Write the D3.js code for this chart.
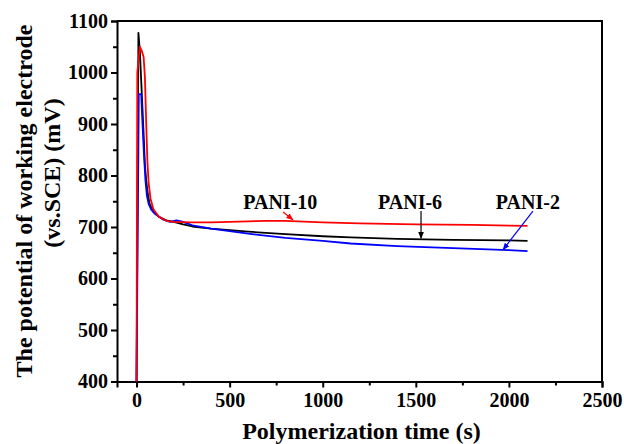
<!DOCTYPE html>
<html><head><meta charset="utf-8">
<script src="https://cdn.jsdelivr.net/npm/d3@7"></script>
<style>
body{margin:0;background:#fff;}
svg text{font-family:"Liberation Serif","Times New Roman",serif;font-weight:bold;fill:#000;}
</style></head>
<body><svg id="c" width="624" height="444"></svg>
<script>
// ---- data ----
const timeBlack = [0, 10, 18, 28, 38, 45, 52, 60, 70, 90, 120, 160, 200, 250, 300, 400, 500, 600, 800, 1000, 1150, 1400, 1700, 2000, 2100];
const valBlack  = [400, 1077, 1040, 960, 880, 820, 790, 765, 745, 730, 720, 713, 710, 705, 701, 697, 694, 691, 686, 682, 680, 677, 675, 674, 673];
const timeBlue = [0, 12, 25, 32, 40, 48, 56, 65, 80, 100, 140, 180, 215, 250, 300, 400, 500, 600, 800, 1000, 1150, 1400, 1700, 2000, 2100];
const valBlue  = [400, 958, 958, 900, 840, 790, 760, 745, 733, 725, 715, 710, 713, 710, 703, 697, 692, 687, 679, 673, 668, 663, 659, 655, 653];
const timeRed = [0, 4, 18, 28, 38, 45, 52, 58, 65, 75, 90, 120, 160, 200, 300, 400, 500, 600, 700, 800, 1000, 1200, 1500, 1800, 2100];
const valRed  = [400, 1000, 1050, 1042, 1030, 990, 900, 830, 785, 755, 735, 720, 712, 710, 709, 709, 710, 711, 712, 712, 709, 707, 705, 704, 702];
const seriesNames = ["PANI-6", "PANI-2", "PANI-10"];
const xTicks = [0, 500, 1000, 1500, 2000, 2500];
const yTicks = [400, 500, 600, 700, 800, 900, 1000, 1100];
// label anchor (time, value) and arrow from/to (time, value)
const labelPos = [[1469, 735], [2102, 735], [772, 735]];
const arrowFrom = [[1528, 731], [2129, 731], [787, 729]];
const arrowTo = [[1528, 678], [1969, 656], [840, 714]];

const colors = ["#000000", "#0000ff", "#ff0000"];
const svg = d3.select("#c");
const L = 117, R = 602, T = 21, B = 381.5;
const x = d3.scaleLinear().domain([-105, 2500]).range([L, R]);
const y = d3.scaleLinear().domain([400, 1100]).range([B, T]);

const defs = svg.append("defs");
colors.forEach((c, i) => {
  defs.append("marker").attr("id", "ah" + i).attr("viewBox", "0 0 10 10")
    .attr("refX", 9).attr("refY", 5).attr("markerWidth", 6).attr("markerHeight", 6)
    .attr("orient", "auto").append("path").attr("d", "M0,1 L10,5 L0,9 Z").attr("fill", c);
});

// frame
svg.append("path").attr("d", `M${L},${T}H${R}V${B}`).attr("fill", "none").attr("stroke", "#000").attr("stroke-width", 2);

// axes
const xAxis = d3.axisBottom(x).tickValues(xTicks).tickSize(6).tickPadding(5).tickFormat(d3.format("d"));
const xMinor = d3.axisBottom(x).tickValues(d3.range(250, 2500, 500)).tickSize(4).tickFormat("");
const yAxis = d3.axisLeft(y).tickValues(yTicks).tickSize(6).tickPadding(3).tickFormat(d3.format("d"));
const yMinor = d3.axisLeft(y).tickValues(d3.range(450, 1100, 100)).tickSize(4).tickFormat("");

function styleAxis(g) {
  g.attr("font-family", null);
  g.selectAll("path,line").attr("stroke", "#000").attr("stroke-width", 2);
  g.selectAll("text").style("font-size", "20px").attr("fill", "#000");
}
svg.append("g").attr("transform", `translate(0,${B})`).call(xMinor).call(styleAxis).select(".domain").remove();
svg.append("g").attr("transform", `translate(0,${B})`).call(xAxis).call(styleAxis);
svg.append("g").attr("transform", `translate(${L},0)`).call(yMinor).call(styleAxis).select(".domain").remove();
svg.append("g").attr("transform", `translate(${L},0)`).call(yAxis).call(styleAxis);

// series
const line = d3.line().x(d => x(d[0])).y(d => y(d[1]));
const series = [
  d3.zip(timeBlack, valBlack),
  d3.zip(timeBlue, valBlue),
  d3.zip(timeRed, valRed)
];
[0, 1, 2].forEach(i => {
  svg.append("path").datum(series[i]).attr("d", line).attr("fill", "none")
    .attr("stroke", colors[i]).attr("stroke-width", 1.8).attr("stroke-linejoin", "round");
});

// labels and arrows
seriesNames.forEach((n, i) => {
  svg.append("text").attr("x", x(labelPos[i][0])).attr("y", y(labelPos[i][1]))
    .attr("text-anchor", "middle").style("font-size", "20px").text(n);
  svg.append("line").attr("x1", x(arrowFrom[i][0])).attr("y1", y(arrowFrom[i][1]))
    .attr("x2", x(arrowTo[i][0])).attr("y2", y(arrowTo[i][1]))
    .attr("stroke", colors[i]).attr("stroke-width", 1.2).attr("marker-end", `url(#ah${i})`);
});

// axis titles
svg.append("text").attr("x", (L + R) / 2 + 2).attr("y", 439).attr("text-anchor", "middle")
  .style("font-size", "24px").text("Polymerization time (s)");
svg.append("text").attr("transform", "translate(32,201) rotate(-90)").attr("text-anchor", "middle")
  .style("font-size", "24px").text("The potential of working electrode");
svg.append("text").attr("transform", "translate(60,173) rotate(-90)").attr("text-anchor", "middle")
  .style("font-size", "24px").text("(vs.SCE) (mV)");
</script></body></html>
